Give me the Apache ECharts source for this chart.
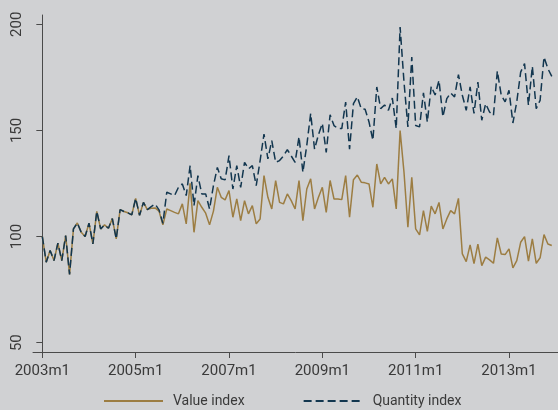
<!DOCTYPE html>
<html>
<head>
<meta charset="utf-8">
<script src="https://cdn.jsdelivr.net/npm/echarts@6/dist/echarts.min.js"></script>
<style>
  html, body { margin: 0; padding: 0; background: #d0d1d3; }
  #chart { width: 558px; height: 410px; }
</style>
</head>
<body>
<div id="chart"></div>
<script>
// Monthly indices, 2003m1 .. 2013m12 (month number 0 = 2003m1)
const startYear = 2003;
const valueIndex = [
  100, 87.9, 93.4, 88.7, 96.9, 88.7, 100.5, 82.1, 103.6, 106.4, 102, 100,
  106.3, 96.5, 111.9, 103.6, 105.5, 103.9, 108.5, 98.9, 112.7, 111.8, 111.2, 110.2,
  118, 110, 116.1, 112.7, 113.3, 113.5, 112, 105.5, 113, 112.2, 111.4, 110.7,
  115.4, 106, 125.1, 102, 116.9, 113.8, 111, 105.5, 112, 123.2, 118.5, 117.3,
  121.7, 109.1, 117.7, 107.5, 116.9, 110.7, 114.6, 106, 108.3, 128.7, 118.5, 113,
  126.4, 116.1, 115.4, 120.1, 116.9, 113, 126.4, 107.5, 122.4, 127.2, 113, 118.5,
  123.2, 111.4, 126.4, 117.7, 117.7, 117.4, 128.7, 109.1, 126.8, 129, 125.6, 125.3,
  124.8, 113.8, 134.2, 124.8, 127.9, 124.8, 127.2, 113, 149.9, 130.3, 104.4, 127.9,
  103.6, 100.8, 112.2, 102.4, 114.3, 110.7, 116.1, 103.6, 108.3, 112.2, 110.7, 118,
  91.8, 88.2, 96.1, 87.2, 96.4, 86.3, 90.3, 89, 87.4, 99.4, 91.8, 91.5,
  94.2, 85.2, 88.7, 97.3, 100, 88.4, 98.9, 87.4, 90, 100.9, 96.5, 95.8
];
const quantityIndex = [
  100, 87.9, 93.4, 88.7, 96.9, 88.7, 100.5, 82.1, 103.6, 106.4, 102, 100,
  106.3, 96.5, 111.9, 103.6, 105.5, 103.9, 108.5, 98.9, 112.7, 111.8, 111.2, 110.2,
  118, 110, 116.1, 112.7, 114.1, 115.3, 112.6, 106.2, 120.9, 120.1, 119.3, 123.2,
  124.8, 119.3, 133.4, 114.6, 128.7, 120.1, 120.1, 113, 124, 132.6, 127.2, 126.7,
  138.1, 122.4, 133.4, 123.2, 135, 131.9, 133.4, 124, 135.8, 148.3, 136.6, 145.2,
  135, 135.8, 138, 141, 138, 135, 147, 130.3, 143, 158, 141.2, 148,
  153.3, 139.7, 157.4, 152.3, 150.9, 150.9, 163.4, 141.2, 162.6, 165.8, 160.3, 160,
  154, 145.4, 170.5, 160.3, 162, 159.5, 165.3, 150.9, 198.7, 172.8, 151.7, 184.6,
  152.3, 151.7, 167.7, 154, 170.8, 166.7, 173.6, 156.4, 165, 167.7, 165.8, 176.3,
  166.6, 159.5, 170.5, 158, 172.8, 154.8, 162.6, 158.7, 157.1, 178, 166.6, 163.5,
  168.9, 153.5, 163.5, 177.5, 181.5, 161.9, 180.2, 160.3, 164.2, 184.6, 179.1, 175.5
];
const xTickMonths = [0, 24, 48, 72, 96, 120];
const yTicks = [50, 100, 150, 200];
const seriesNames = ['Value index', 'Quantity index'];

const monthLabel = m => (startYear + Math.floor(m / 12)) + 'm' + (m % 12 + 1);
const toPairs = arr => arr.map((v, i) => [i, v]);

const axisColor = '#4a4a4a';
const textColor = '#3a3a3a';

const chart = echarts.init(document.getElementById('chart'), null, { renderer: 'canvas' });
chart.setOption({
  backgroundColor: '#d0d1d3',
  animation: false,
  grid: { left: 33, right: 0, top: 15, bottom: 58, containLabel: false },
  legend: {
    left: 98,
    top: 389,
    itemWidth: 59,
    itemHeight: 14,
    itemGap: 58,
    itemStyle: { opacity: 0 },
    textStyle: {
      fontFamily: 'Roboto, sans-serif',
      fontSize: 14,
      color: textColor,
      padding: [0, 0, 0, 5]
    },
    data: seriesNames
  },
  xAxis: {
    type: 'value',
    min: -2.4,
    max: 132.6,
    axisLine: { show: true, lineStyle: { color: axisColor, width: 1 } },
    axisTick: { show: true, length: 6, customValues: xTickMonths, lineStyle: { color: axisColor } },
    axisLabel: {
      customValues: xTickMonths,
      formatter: v => monthLabel(v),
      margin: 12,
      fontFamily: 'Roboto, sans-serif',
      fontSize: 15,
      color: textColor
    },
    splitLine: { show: false }
  },
  yAxis: {
    type: 'value',
    min: 45.6,
    max: 204.4,
    axisLine: { show: true, lineStyle: { color: axisColor, width: 1 } },
    axisTick: { show: true, length: 6, customValues: yTicks, lineStyle: { color: axisColor } },
    axisLabel: {
      customValues: yTicks,
      rotate: 90,
      margin: 8,
      fontFamily: 'Roboto, sans-serif',
      fontSize: 15,
      color: textColor
    },
    splitLine: { show: false }
  },
  series: [
    {
      name: seriesNames[0],
      type: 'line',
      data: toPairs(valueIndex),
      symbol: 'none',
      z: 2,
      lineStyle: { color: '#9c7d42', width: 1.5 },
      itemStyle: { color: '#9c7d42' }
    },
    {
      name: seriesNames[1],
      type: 'line',
      data: toPairs(quantityIndex),
      symbol: 'none',
      z: 3,
      lineStyle: { color: '#12364f', width: 1.5, type: [8, 4] },
      itemStyle: { color: '#12364f' }
    }
  ]
});
</script>
</body>
</html>
